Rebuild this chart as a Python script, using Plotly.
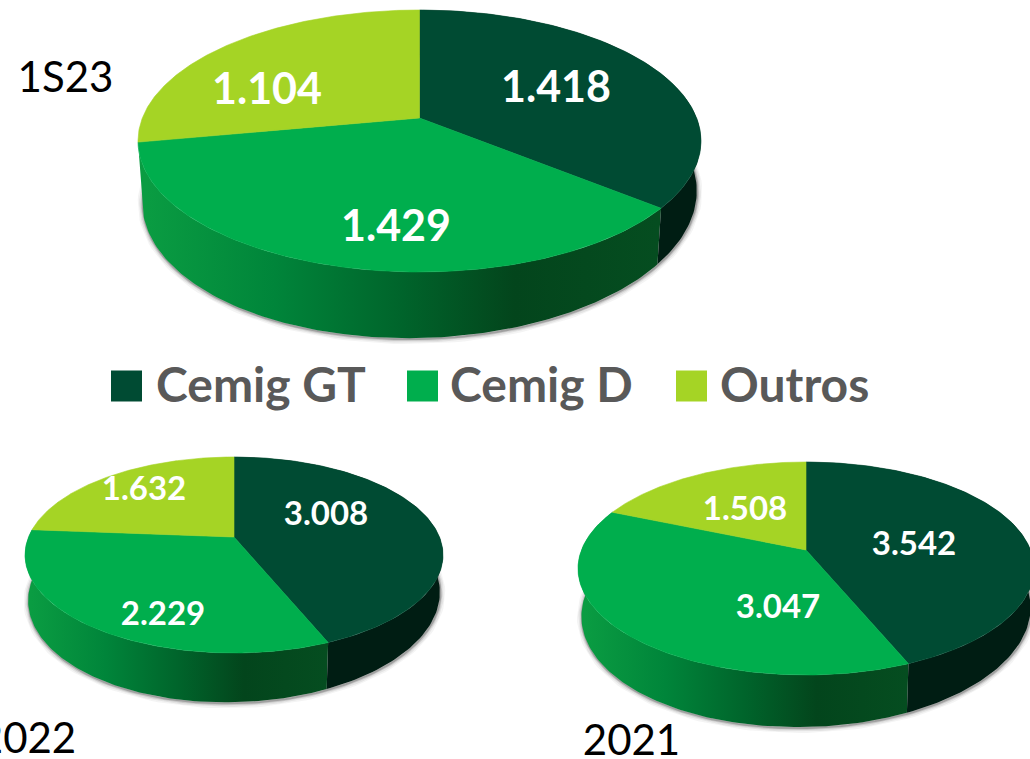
import numpy as np
import plotly.graph_objects as go

# ---- data ----
SERIES = ["Cemig GT", "Cemig D", "Outros"]
PERIODS = ["1S23", "2022", "2021"]
VALUES_1S23 = [1418, 1429, 1104]
VALUES_2022 = [3008, 2229, 1632]
VALUES_2021 = [3542, 3047, 1508]
LABELS_1S23 = ["1.418", "1.429", "1.104"]
LABELS_2022 = ["3.008", "2.229", "1.632"]
LABELS_2021 = ["3.542", "3.047", "1.508"]

# ---- style / layout ----
W, H = 1030, 759
FONT = "Lato"
TOP = ["#004b33", "#00ae4d", "#a5d425"]
SIDE_DARK = "#001d13"
SIDE_GREEN = [[0, "#0a9c42"], [0.25, "#00853a"], [0.5, "#00642b"], [0.72, "#03451c"], [1, "#054d20"]]
PIES = [
    dict(vals=VALUES_1S23, labs=LABELS_1S23, cx=419.5, cy=118, up=108, down=154, left=138,
         drop=53.7, fs=43, pos=[(556, 91), (396, 230), (267, 93)]),
    dict(vals=VALUES_2022, labs=LABELS_2022, cx=234, cy=537, up=80, down=116, left=25,
         drop=40, fs=33, pos=[(326, 517), (163, 617), (144, 492)]),
    dict(vals=VALUES_2021, labs=LABELS_2021, cx=806, cy=550, up=88, down=125, left=578,
         drop=42, fs=33, pos=[(914, 547), (778, 610), (745, 512)]),
]
YEARS = [(65.5, 81), (27.5, 742), (631.5, 744)]
X_SCALE, Y_SCALE, SHEAR = 0.985, 1.08, 0.02


def project(p, t):
    """Perspective view of a flat disc; t is the clockwise angle from the top, in degrees."""
    k = (p["down"] - p["up"]) / (p["down"] + p["up"])
    b = p["up"] * (1 + k)
    a = (p["cx"] - p["left"]) * np.sqrt(1 - k * k)
    r = np.radians(t)
    X, Y = np.sin(r), np.cos(r)
    w = 1 + k * Y
    return a * X / w, b * Y / w


def rim(p, t):
    u, v = project(p, t)
    return p["cx"] + u, p["cy"] - v


def base(p, t):
    u, v = project(p, t)
    return p["cx"] + u * X_SCALE, p["cy"] - v * Y_SCALE + p["drop"] - SHEAR * u


fig = go.Figure()

for p in PIES:
    # soft drop shadow round the lower disc
    bx, by = base(p, np.linspace(0, 360, 241))
    for lw, alpha in [(10, 0.05), (7, 0.08), (4, 0.14), (2, 0.25)]:
        fig.add_trace(go.Scatter(x=bx + 0.5, y=by + 1, mode="lines", showlegend=False, hoverinfo="skip",
                                 line=dict(color=f"rgba(40,40,40,{alpha})", width=lw)))
    edges = np.concatenate([[0], np.cumsum(p["vals"]) / np.sum(p["vals"]) * 360])
    # side walls (only the first two series ever face the viewer)
    for i in [1, 0]:
        t = np.linspace(edges[i], edges[i + 1], 120)
        rx, ry = rim(p, t)
        qx, qy = base(p, t[::-1])
        xs, ys = np.concatenate([rx, qx, rx[:1]]), np.concatenate([ry, qy, ry[:1]])
        if i == 1:
            fig.add_trace(go.Scatter(
                x=xs, y=ys, mode="lines", fill="toself", showlegend=False, hoverinfo="skip",
                line=dict(width=0),
                fillgradient=dict(type="horizontal", colorscale=SIDE_GREEN,
                                  start=float(base(p, 270)[0]), stop=float(base(p, edges[1])[0]))))
        else:
            fig.add_trace(go.Scatter(x=xs, y=ys, mode="lines", fill="toself", showlegend=False,
                                     hoverinfo="skip", line=dict(width=0), fillcolor=SIDE_DARK))
    # top faces
    for i in range(3):
        t = np.linspace(edges[i], edges[i + 1], 160)
        rx, ry = rim(p, t)
        fig.add_trace(go.Scatter(
            x=np.concatenate([[p["cx"]], rx, [p["cx"]]]),
            y=np.concatenate([[p["cy"]], ry, [p["cy"]]]),
            mode="lines", fill="toself", fillcolor=TOP[i], showlegend=False, hoverinfo="skip",
            line=dict(width=0.6, color=TOP[i])))
    # value labels
    fig.add_trace(go.Scatter(
        x=[q[0] for q in p["pos"]], y=[q[1] for q in p["pos"]], text=p["labs"], mode="text",
        textposition="middle center", showlegend=False, hoverinfo="skip",
        textfont=dict(family=FONT, size=p["fs"], color="white", weight="bold")))

# period captions
fig.add_trace(go.Scatter(
    x=[q[0] for q in YEARS], y=[q[1] for q in YEARS], text=PERIODS, mode="text",
    textposition="middle center", showlegend=False, hoverinfo="skip",
    textfont=dict(family=FONT, size=42, color="black")))

# legend
LEG_BOX_X = [126.5, 422.5, 691.5]
LEG_TEXT_X = [156, 450, 720]
LEG_BOX_Y, LEG_TEXT_Y = 386, 390
for i, name in enumerate(SERIES):
    fig.add_trace(go.Scatter(x=[LEG_BOX_X[i]], y=[LEG_BOX_Y], mode="markers", showlegend=False,
                             hoverinfo="skip",
                             marker=dict(symbol="square", size=31, color=TOP[i], line=dict(width=0))))
    fig.add_trace(go.Scatter(x=[LEG_TEXT_X[i]], y=[LEG_TEXT_Y], text=[name], mode="text",
                             textposition="middle right", showlegend=False, hoverinfo="skip",
                             textfont=dict(family=FONT, size=48, color="#595959", weight="bold")))

fig.update_layout(
    width=W, height=H, margin=dict(l=0, r=0, t=0, b=0),
    paper_bgcolor="white", plot_bgcolor="white", showlegend=False,
    xaxis=dict(range=[0, W], visible=False, fixedrange=True),
    yaxis=dict(range=[H, 0], visible=False, fixedrange=True),
)
fig.write_html("out.html", config=dict(displayModeBar=False),
               post_script="document.body.style.margin='0';")
